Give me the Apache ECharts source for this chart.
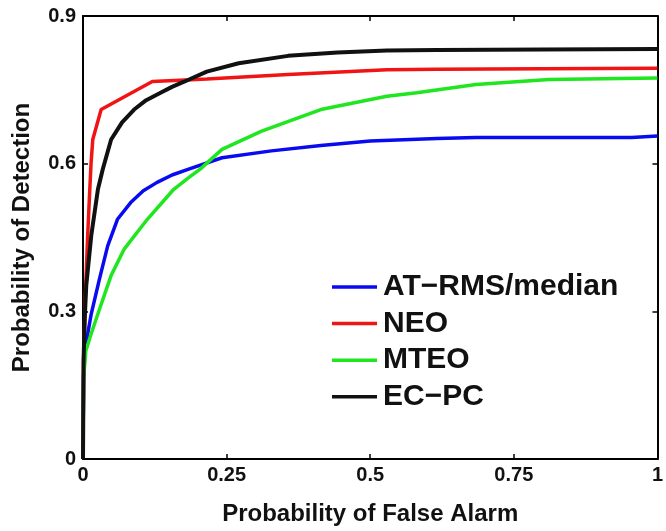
<!DOCTYPE html>
<html>
<head>
<meta charset="utf-8">
<script src="https://cdn.jsdelivr.net/npm/echarts@6/dist/echarts.min.js"></script>
<style>html,body{margin:0;padding:0;background:#fff}#c{width:666px;height:531px}</style>
</head>
<body>
<div id="c"></div>
<script>
// Data
const seriesNames = ['AT\u2212RMS/median', 'NEO', 'MTEO', 'EC\u2212PC'];
const xTicks = [0, 0.25, 0.5, 0.75, 1];
const yTicks = [0, 0.3, 0.6, 0.9];

const atX = [0, 0.001, 0.003, 0.0057, 0.0144, 0.0287, 0.043, 0.060, 0.083, 0.105, 0.129, 0.155, 0.184, 0.242, 0.328, 0.414, 0.5, 0.616, 0.684, 0.955, 1];
const atY = [0, 0.17, 0.211, 0.238, 0.295, 0.366, 0.433, 0.487, 0.521, 0.545, 0.562, 0.577, 0.589, 0.612, 0.626, 0.637, 0.646, 0.651, 0.653, 0.653, 0.656];

const neoX = [0, 0.001, 0.004, 0.008, 0.0115, 0.014, 0.017, 0.0316, 0.1207, 0.2155, 0.357, 0.529, 0.616, 0.8, 1];
const neoY = [0, 0.2, 0.33, 0.45, 0.54, 0.6, 0.649, 0.710, 0.767, 0.772, 0.781, 0.791, 0.792, 0.793, 0.794];

const mteoX = [0, 0.001, 0.005, 0.013, 0.026, 0.049, 0.072, 0.112, 0.158, 0.1845, 0.204, 0.242, 0.311, 0.414, 0.529, 0.581, 0.684, 0.811, 1];
const mteoY = [0, 0.164, 0.22, 0.25, 0.295, 0.373, 0.427, 0.487, 0.548, 0.572, 0.589, 0.629, 0.666, 0.710, 0.737, 0.744, 0.761, 0.771, 0.774];

const ecX = [0, 0.001, 0.003, 0.0057, 0.0144, 0.026, 0.0345, 0.049, 0.068, 0.089, 0.11, 0.135, 0.155, 0.175, 0.2155, 0.271, 0.357, 0.443, 0.529, 0.616, 0.8, 1];
const ecY = [0, 0.2, 0.285, 0.353, 0.454, 0.548, 0.589, 0.649, 0.684, 0.710, 0.729, 0.744, 0.756, 0.766, 0.787, 0.804, 0.819, 0.826, 0.830, 0.831, 0.832, 0.833];

const colors = ['#0a0af0', '#f01414', '#1fe61f', '#111111'];
const xsList = [atX, neoX, mteoX, ecX];
const ysList = [atY, neoY, mteoY, ecY];

function pairs(xs, ys) { return xs.map((x, i) => [x, ys[i]]); }

const font = 'Liberation Sans, Arial, sans-serif';
const chart = echarts.init(document.getElementById('c'), null, {renderer: 'canvas'});

const axisLine = {show: true, onZero: false, lineStyle: {color: '#000', width: 2}};
const tickIn = {show: true, inside: true, length: 5, lineStyle: {color: '#000', width: 1.5}};

chart.setOption({
  animation: false,
  backgroundColor: '#fff',
  grid: {left: 83, right: 3, top: 16, bottom: 70, containLabel: false},
  legend: {
    orient: 'vertical',
    left: 332,
    top: 272,
    padding: 0,
    icon: 'rect',
    itemWidth: 45,
    itemHeight: 3.5,
    itemGap: 6.6,
    data: seriesNames,
    textStyle: {fontFamily: font, fontWeight: 'bold', fontSize: 30, lineHeight: 27, color: '#111', padding: [0, 0, 0, 1]}
  },
  xAxis: [
    {
      type: 'value', min: 0, max: 1, interval: 0.25, position: 'bottom',
      axisLine: axisLine, axisTick: tickIn, splitLine: {show: false},
      axisLabel: {fontFamily: font, fontWeight: 'bold', fontSize: 20, color: '#111', margin: 6,
        formatter: v => xTicks.includes(v) ? String(v) : ''},
      name: 'Probability of False Alarm', nameLocation: 'middle', nameGap: 55,
      nameTextStyle: {fontFamily: font, fontWeight: 'bold', fontSize: 24, color: '#111', verticalAlign: 'middle'}
    },
    {
      type: 'value', min: 0, max: 1, interval: 0.25, position: 'top',
      axisLine: axisLine, axisTick: tickIn, axisLabel: {show: false}, splitLine: {show: false}
    }
  ],
  yAxis: [
    {
      type: 'value', min: 0, max: 0.9, interval: 0.3, position: 'left',
      axisLine: axisLine, axisTick: tickIn, splitLine: {show: false},
      axisLabel: {fontFamily: font, fontWeight: 'bold', fontSize: 20, color: '#111', margin: 7,
        formatter: v => { const t = yTicks.find(k => Math.abs(k - v) < 1e-9); return t === undefined ? '' : String(t); }},
      name: 'Probability of Detection', nameLocation: 'middle', nameGap: 61,
      nameTextStyle: {fontFamily: font, fontWeight: 'bold', fontSize: 24, color: '#111', verticalAlign: 'middle'}
    },
    {
      type: 'value', min: 0, max: 0.9, interval: 0.3, position: 'right',
      axisLine: axisLine, axisTick: tickIn, axisLabel: {show: false}, splitLine: {show: false}
    }
  ],
  series: seriesNames.map((name, i) => ({
    name: name,
    type: 'line',
    xAxisIndex: 0,
    yAxisIndex: 0,
    symbol: 'none',
    smooth: false,
    data: pairs(xsList[i], ysList[i]),
    color: colors[i],
    lineStyle: {color: colors[i], width: i === 3 ? 4 : 3.5},
    z: i === 3 ? 4 : 3
  }))
});
</script>
</body>
</html>
